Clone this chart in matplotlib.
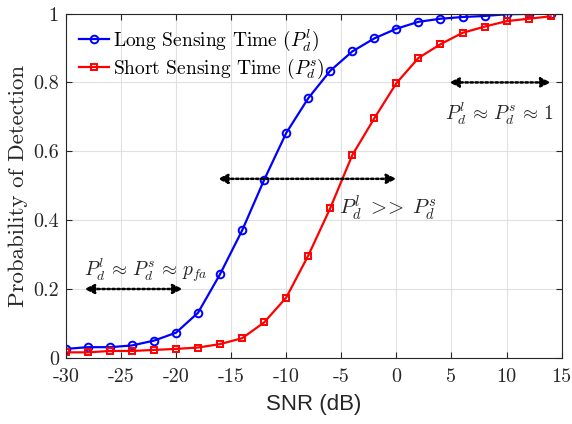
import matplotlib
matplotlib.use('Agg')
import matplotlib.pyplot as plt
import numpy as np

# data
snr = list(range(-30, 15, 2))
pd_long = [0.026, 0.031, 0.031, 0.036, 0.050, 0.073, 0.131, 0.243, 0.370, 0.517,
           0.653, 0.754, 0.834, 0.890, 0.928, 0.956, 0.976, 0.985, 0.990, 0.993,
           0.998, 0.999, 1.000]
pd_short = [0.016, 0.016, 0.020, 0.020, 0.023, 0.026, 0.030, 0.040, 0.057, 0.103,
            0.175, 0.297, 0.435, 0.589, 0.696, 0.798, 0.871, 0.911, 0.944, 0.962,
            0.978, 0.985, 0.992]
xticks = [-30, -25, -20, -15, -10, -5, 0, 5, 10, 15]
yticks = [0, 0.2, 0.4, 0.6, 0.8, 1]
ytick_labels = ['0', '0.2', '0.4', '0.6', '0.8', '1']

plt.rcParams['font.family'] = ['cmr10']
plt.rcParams['mathtext.fontset'] = 'cm'
plt.rcParams['axes.unicode_minus'] = False

fig = plt.figure(figsize=(5.72, 4.24), dpi=100)
ax = fig.add_axes([0.115, 0.156, 0.867, 0.812])

ax.plot(snr, pd_long, '-o', color='b', lw=1.6, ms=5.5, mfc='none', mew=1.4,
        label=r'Long Sensing Time ($P_d^l$)')
ax.plot(snr, pd_short, '-s', color='r', lw=1.6, ms=4.5, mfc='none', mew=1.4,
        label=r'Short Sensing Time ($P_d^s$)')

ax.set_xlim(-30, 15)
ax.set_ylim(0, 1)
ax.set_xticks(xticks)
ax.set_xticklabels([str(t) for t in xticks])
ax.set_yticks(yticks)
ax.set_yticklabels(ytick_labels)
ax.tick_params(direction='in', top=True, right=True, labelsize=14.5, length=4,
               colors='#262626')
ax.tick_params(axis='x', pad=7)
ax.tick_params(axis='y', pad=5)
ax.grid(True, color='#e0e0e0', lw=0.8)
ax.set_axisbelow(True)
for s in ax.spines.values():
    s.set_color('#262626')
    s.set_linewidth(0.8)

ax.set_xlabel('SNR (dB)', family='Liberation Sans', fontsize=16, color='#262626',
              labelpad=6)
ax.set_ylabel('Probability of Detection', fontsize=16.5, color='#262626',
              labelpad=4)

arrow = dict(arrowstyle='<|-|>', ls=(0, (1, 1)), lw=1.8, color='k',
             mutation_scale=14, shrinkA=0, shrinkB=0)
ax.annotate('', xy=(-28.3, 0.2), xytext=(-19.4, 0.2), arrowprops=arrow)
ax.annotate('', xy=(-16.2, 0.52), xytext=(0.0, 0.52), arrowprops=arrow)
ax.annotate('', xy=(4.8, 0.8), xytext=(14.0, 0.8), arrowprops=arrow)
ax.text(-22.7, 0.255, r'$P_d^l \,\approx\, P_d^s \,\approx\, p_{fa}$', fontsize=14,
        ha='center', va='center', color='#262626')
ax.text(-5.2, 0.435, r'$P_d^l \;>\!\!>\; P_d^s$', fontsize=15, ha='left',
        va='center', color='#262626')
ax.text(9.3, 0.71, r'$P_d^l \,\approx\, P_d^s \,\approx\, 1$', fontsize=14,
        ha='center', va='center', color='#262626')

ax.legend(loc='upper left', frameon=False, fontsize=14, handlelength=1.5,
          handletextpad=0.25, borderaxespad=0.3, labelspacing=0.2)

fig.savefig('out.png', dpi=100)
